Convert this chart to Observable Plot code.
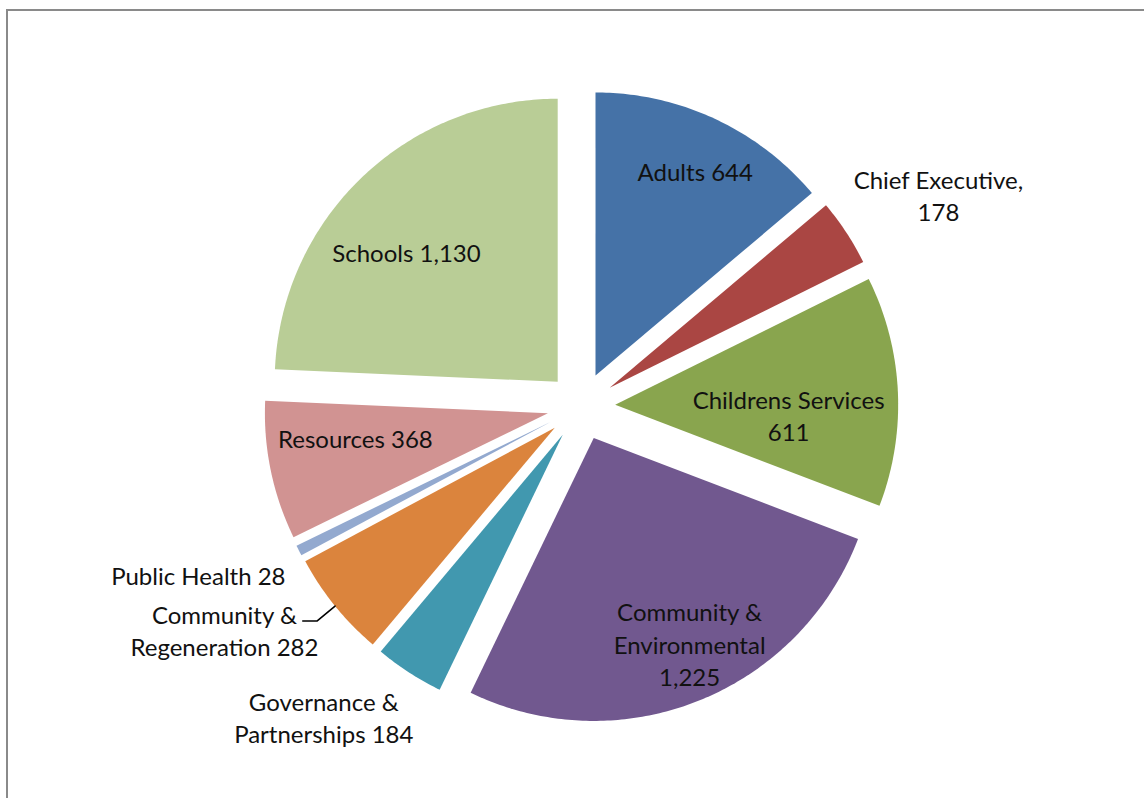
<!DOCTYPE html>
<html>
<head>
<meta charset="utf-8">
<script src="https://cdn.jsdelivr.net/npm/d3@7"></script>
<script src="https://cdn.jsdelivr.net/npm/@observablehq/plot@0.6"></script>
<style>
  html, body { margin: 0; padding: 0; background: #fff; }
  #wrap { position: relative; width: 1144px; height: 798px; overflow: hidden; }
  #frame { position: absolute; left: 6px; top: 9px; width: 1200px; height: 900px;
           border-left: 2.5px solid #8a8a8a; border-top: 2.5px solid #8a8a8a; pointer-events: none; }
  #chart svg { display: block; }
</style>
</head>
<body>
<div id="wrap"><div id="chart"></div><div id="frame"></div></div>
<script>
// ---- data ----
const categories = ["Adults", "Chief Executive", "Childrens Services", "Community & Environmental",
  "Governance & Partnerships", "Community & Regeneration", "Public Health", "Resources", "Schools"];
const values = [644, 178, 611, 1225, 184, 282, 28, 368, 1130];
const labelTexts = ["Adults 644", "Chief Executive,\n178", "Childrens Services\n611",
  "Community &\nEnvironmental\n1,225", "Governance &\nPartnerships 184", "Community &\nRegeneration 282",
  "Public Health 28", "Resources 368", "Schools 1,130"];
const colors = ["#4572A7", "#AA4643", "#89A54E", "#71588F", "#4198AF", "#DB843D", "#93A9CF", "#D19392", "#B9CD96"];

// ---- layout (label placement in polar terms: angle in degrees clockwise from 12 o'clock, radius as share of pie radius) ----
const labelAngle = [26.1, 59.7, 93.1, 155.7, 219.4, 237.6, 245.9, 261.4, 311.0];
const labelRadius = [0.916, 1.462, 0.734, 0.931, 1.433, 1.493, 1.482, 0.807, 0.818];
const explode = 34 / 283;
const R = 283, CX = 580.7, CY = 405.8, W = 1144, H = 798;

const total = d3.sum(values);
const rad = (deg) => deg * Math.PI / 180;
const polar = (a, r) => ({x: r * Math.sin(a), y: r * Math.cos(a)});

let cum = 0;
const slices = values.map((v, i) => {
  const a0 = cum / total * 2 * Math.PI;
  cum += v;
  const a1 = cum / total * 2 * Math.PI;
  return {name: categories[i], a0, a1, mid: (a0 + a1) / 2};
});

const slicePoints = [];
for (const s of slices) {
  const o = polar(s.mid, explode);
  slicePoints.push({name: s.name, x: o.x, y: o.y});
  const n = Math.max(8, Math.ceil((s.a1 - s.a0) * 80));
  for (let k = 0; k <= n; k++) {
    const a = s.a0 + (s.a1 - s.a0) * k / n;
    const p = polar(a, 1);
    slicePoints.push({name: s.name, x: o.x + p.x, y: o.y + p.y});
  }
  slicePoints.push({name: s.name, x: o.x, y: o.y});
}

const labelData = categories.map((c, i) => {
  const p = polar(rad(labelAngle[i]), labelRadius[i]);
  return {name: c, text: labelTexts[i], x: p.x, y: p.y};
});

// leader line for Community & Regeneration: from arc midpoint out to the label
const cr = slices[5];
const crO = polar(cr.mid, explode), crP = polar(cr.mid, 1);
const leadEnd = {x: crO.x + crP.x, y: crO.y + crP.y};
const leadElbow = {x: leadEnd.x - 0.064, y: leadEnd.y - 0.053};
const leadStart = {x: leadElbow.x - 0.05, y: leadElbow.y};
const leader = [leadStart, leadElbow, leadEnd];

const chart = Plot.plot({
  width: W, height: H, margin: 0,
  style: {background: "transparent"},
  x: {domain: [-CX / R, (W - CX) / R], axis: null},
  y: {domain: [-(H - CY) / R, CY / R], axis: null},
  color: {domain: categories, range: colors},
  marks: [
    Plot.line(slicePoints, {x: "x", y: "y", z: "name", fill: "name", stroke: "none", curve: "linear"}),
    Plot.line(leader, {x: "x", y: "y", stroke: "#000", strokeWidth: 1.6}),
    Plot.text(labelData, {x: "x", y: "y", text: "text", fill: "#111", fontSize: 24, dy: -3,
      fontFamily: "Lato, 'Open Sans', sans-serif", lineHeight: 1.35, textAnchor: "middle", lineAnchor: "middle"})
  ]
});
document.getElementById("chart").appendChild(chart);
</script>
</body>
</html>
